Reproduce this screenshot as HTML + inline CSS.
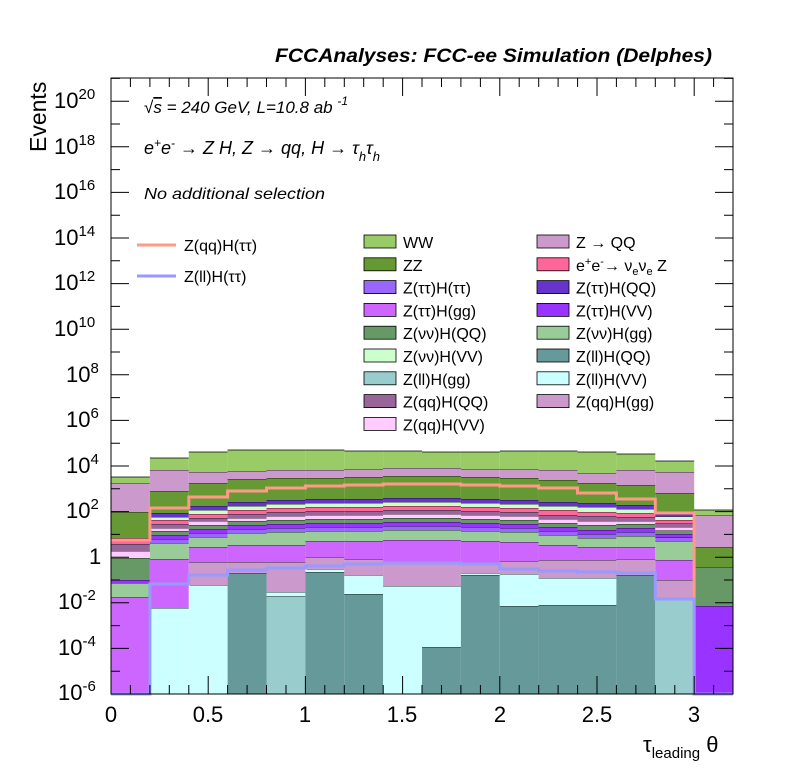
<!DOCTYPE html>
<html><head><meta charset="utf-8"><style>
body{margin:0;background:#fff;}
svg{display:block;font-family:"Liberation Sans",sans-serif;}
.b rect{stroke:#000;stroke-width:0.8;stroke-dasharray:38.9 1000;}
.WW{fill:#99cc66}.ZZ{fill:#669933}.ZQQ{fill:#cc99cc}.nn{fill:#ff6699}.tt{fill:#9966ff}.tg{fill:#cc66ff}.tQ{fill:#6633cc}.tV{fill:#9933ff}.vQ{fill:#669966}.vg{fill:#99cc99}.vV{fill:#ccffcc}.lQ{fill:#669999}.lg{fill:#99cccc}.lV{fill:#ccffff}.qQ{fill:#996699}.qV{fill:#ffccff}.qg{fill:#cc99cc}
</style></head><body>
<svg width="796" height="772" viewBox="0 0 796 772" xmlns="http://www.w3.org/2000/svg">
<rect width="796" height="772" fill="#fff"/>
<g class="b">
<g transform="translate(111,0)">
<rect class="tg" x="0" width="38.9" y="597" height="97"/>
<rect class="vg" x="0" width="38.9" y="583" height="14"/>
<rect class="tV" x="0" width="38.9" y="580" height="3"/>
<rect class="vQ" x="0" width="38.9" y="558" height="22"/>
<rect class="qV" x="0" width="38.9" y="551" height="7"/>
<rect class="qQ" x="0" width="38.9" y="544" height="7"/>
<rect class="nn" x="0" width="38.9" y="538" height="6"/>
<rect class="ZZ" x="0" width="38.9" y="512" height="26"/>
<rect class="ZQQ" x="0" width="38.9" y="483" height="29"/>
<rect class="WW" x="0" width="38.9" y="477" height="6"/>
</g>
<g transform="translate(149.9,0)">
<rect class="lV" x="0" width="38.9" y="608" height="86"/>
<rect class="tg" x="0" width="38.9" y="559" height="49"/>
<rect class="vg" x="0" width="38.9" y="543" height="16"/>
<rect class="tt" x="0" width="38.9" y="539" height="4"/>
<rect class="tV" x="0" width="38.9" y="535" height="4"/>
<rect class="vQ" x="0" width="38.9" y="531" height="4"/>
<rect class="qV" x="0" width="38.9" y="528" height="3"/>
<rect class="qQ" x="0" width="38.9" y="524" height="4"/>
<rect class="nn" x="0" width="38.9" y="520" height="4"/>
<rect class="vV" x="0" width="38.9" y="517" height="3"/>
<rect class="tQ" x="0" width="38.9" y="513" height="4"/>
<rect class="ZZ" x="0" width="38.9" y="491" height="22"/>
<rect class="ZQQ" x="0" width="38.9" y="470" height="21"/>
<rect class="WW" x="0" width="38.9" y="458" height="12"/>
</g>
<g transform="translate(188.8,0)">
<rect class="lV" x="0" width="38.9" y="585" height="109"/>
<rect class="qg" x="0" width="38.9" y="562" height="23"/>
<rect class="tg" x="0" width="38.9" y="547" height="15"/>
<rect class="vg" x="0" width="38.9" y="537" height="10"/>
<rect class="tt" x="0" width="38.9" y="533" height="4"/>
<rect class="tV" x="0" width="38.9" y="529" height="4"/>
<rect class="vQ" x="0" width="38.9" y="525" height="4"/>
<rect class="qV" x="0" width="38.9" y="521" height="4"/>
<rect class="qQ" x="0" width="38.9" y="518" height="3"/>
<rect class="nn" x="0" width="38.9" y="514" height="4"/>
<rect class="vV" x="0" width="38.9" y="510" height="4"/>
<rect class="tQ" x="0" width="38.9" y="506" height="4"/>
<rect class="ZZ" x="0" width="38.9" y="483" height="23"/>
<rect class="ZQQ" x="0" width="38.9" y="472" height="11"/>
<rect class="WW" x="0" width="38.9" y="452" height="20"/>
</g>
<g transform="translate(227.6,0)">
<rect class="lQ" x="0" width="38.9" y="573" height="121"/>
<rect class="qg" x="0" width="38.9" y="562" height="11"/>
<rect class="tg" x="0" width="38.9" y="545" height="17"/>
<rect class="vg" x="0" width="38.9" y="533" height="12"/>
<rect class="tt" x="0" width="38.9" y="529" height="4"/>
<rect class="tV" x="0" width="38.9" y="525" height="4"/>
<rect class="vQ" x="0" width="38.9" y="521" height="4"/>
<rect class="qV" x="0" width="38.9" y="518" height="3"/>
<rect class="qQ" x="0" width="38.9" y="514" height="4"/>
<rect class="nn" x="0" width="38.9" y="510" height="4"/>
<rect class="vV" x="0" width="38.9" y="506" height="4"/>
<rect class="tQ" x="0" width="38.9" y="502" height="4"/>
<rect class="ZZ" x="0" width="38.9" y="479" height="23"/>
<rect class="ZQQ" x="0" width="38.9" y="471" height="8"/>
<rect class="WW" x="0" width="38.9" y="450" height="21"/>
</g>
<g transform="translate(266.5,0)">
<rect class="lg" x="0" width="38.9" y="596" height="98"/>
<rect class="lV" x="0" width="38.9" y="592" height="4"/>
<rect class="qg" x="0" width="38.9" y="562" height="30"/>
<rect class="tg" x="0" width="38.9" y="545" height="17"/>
<rect class="vg" x="0" width="38.9" y="532" height="13"/>
<rect class="tt" x="0" width="38.9" y="528" height="4"/>
<rect class="tV" x="0" width="38.9" y="524" height="4"/>
<rect class="vQ" x="0" width="38.9" y="520" height="4"/>
<rect class="qV" x="0" width="38.9" y="516" height="4"/>
<rect class="qQ" x="0" width="38.9" y="512" height="4"/>
<rect class="nn" x="0" width="38.9" y="508" height="4"/>
<rect class="vV" x="0" width="38.9" y="504" height="4"/>
<rect class="tQ" x="0" width="38.9" y="500" height="4"/>
<rect class="ZZ" x="0" width="38.9" y="478" height="22"/>
<rect class="ZQQ" x="0" width="38.9" y="470" height="8"/>
<rect class="WW" x="0" width="38.9" y="450" height="20"/>
</g>
<g transform="translate(305.4,0)">
<rect class="lQ" x="0" width="38.9" y="572" height="122"/>
<rect class="lV" x="0" width="38.9" y="569" height="3"/>
<rect class="qg" x="0" width="38.9" y="557" height="12"/>
<rect class="tg" x="0" width="38.9" y="541" height="16"/>
<rect class="vg" x="0" width="38.9" y="531" height="10"/>
<rect class="tt" x="0" width="38.9" y="527" height="4"/>
<rect class="tV" x="0" width="38.9" y="523" height="4"/>
<rect class="vQ" x="0" width="38.9" y="519" height="4"/>
<rect class="qV" x="0" width="38.9" y="515" height="4"/>
<rect class="qQ" x="0" width="38.9" y="511" height="4"/>
<rect class="nn" x="0" width="38.9" y="507" height="4"/>
<rect class="vV" x="0" width="38.9" y="503" height="4"/>
<rect class="tQ" x="0" width="38.9" y="499" height="4"/>
<rect class="ZZ" x="0" width="38.9" y="478" height="21"/>
<rect class="ZQQ" x="0" width="38.9" y="470" height="8"/>
<rect class="WW" x="0" width="38.9" y="450" height="20"/>
</g>
<g transform="translate(344.3,0)">
<rect class="lQ" x="0" width="38.9" y="594" height="100"/>
<rect class="lV" x="0" width="38.9" y="575" height="19"/>
<rect class="qg" x="0" width="38.9" y="559" height="16"/>
<rect class="tg" x="0" width="38.9" y="541" height="18"/>
<rect class="vg" x="0" width="38.9" y="531" height="10"/>
<rect class="tt" x="0" width="38.9" y="527" height="4"/>
<rect class="tV" x="0" width="38.9" y="523" height="4"/>
<rect class="vQ" x="0" width="38.9" y="519" height="4"/>
<rect class="qV" x="0" width="38.9" y="515" height="4"/>
<rect class="qQ" x="0" width="38.9" y="511" height="4"/>
<rect class="nn" x="0" width="38.9" y="507" height="4"/>
<rect class="vV" x="0" width="38.9" y="503" height="4"/>
<rect class="tQ" x="0" width="38.9" y="499" height="4"/>
<rect class="ZZ" x="0" width="38.9" y="477" height="22"/>
<rect class="ZQQ" x="0" width="38.9" y="469" height="8"/>
<rect class="WW" x="0" width="38.9" y="451" height="18"/>
</g>
<g transform="translate(383.1,0)">
<rect class="lV" x="0" width="38.9" y="586" height="108"/>
<rect class="qg" x="0" width="38.9" y="564" height="22"/>
<rect class="tg" x="0" width="38.9" y="540" height="24"/>
<rect class="vg" x="0" width="38.9" y="530" height="10"/>
<rect class="tt" x="0" width="38.9" y="526" height="4"/>
<rect class="tV" x="0" width="38.9" y="522" height="4"/>
<rect class="vQ" x="0" width="38.9" y="518" height="4"/>
<rect class="qV" x="0" width="38.9" y="514" height="4"/>
<rect class="qQ" x="0" width="38.9" y="510" height="4"/>
<rect class="nn" x="0" width="38.9" y="506" height="4"/>
<rect class="vV" x="0" width="38.9" y="502" height="4"/>
<rect class="tQ" x="0" width="38.9" y="498" height="4"/>
<rect class="ZZ" x="0" width="38.9" y="476" height="22"/>
<rect class="ZQQ" x="0" width="38.9" y="468" height="8"/>
<rect class="WW" x="0" width="38.9" y="451" height="17"/>
</g>
<g transform="translate(422,0)">
<rect class="lQ" x="0" width="38.9" y="647" height="47"/>
<rect class="lV" x="0" width="38.9" y="586" height="61"/>
<rect class="qg" x="0" width="38.9" y="563" height="23"/>
<rect class="tg" x="0" width="38.9" y="540" height="23"/>
<rect class="vg" x="0" width="38.9" y="530" height="10"/>
<rect class="tt" x="0" width="38.9" y="526" height="4"/>
<rect class="tV" x="0" width="38.9" y="522" height="4"/>
<rect class="vQ" x="0" width="38.9" y="518" height="4"/>
<rect class="qV" x="0" width="38.9" y="514" height="4"/>
<rect class="qQ" x="0" width="38.9" y="510" height="4"/>
<rect class="nn" x="0" width="38.9" y="506" height="4"/>
<rect class="vV" x="0" width="38.9" y="502" height="4"/>
<rect class="tQ" x="0" width="38.9" y="498" height="4"/>
<rect class="ZZ" x="0" width="38.9" y="476" height="22"/>
<rect class="ZQQ" x="0" width="38.9" y="468" height="8"/>
<rect class="WW" x="0" width="38.9" y="452" height="16"/>
</g>
<g transform="translate(460.9,0)">
<rect class="lQ" x="0" width="38.9" y="575" height="119"/>
<rect class="lV" x="0" width="38.9" y="573" height="2"/>
<rect class="qg" x="0" width="38.9" y="563" height="10"/>
<rect class="tg" x="0" width="38.9" y="541" height="22"/>
<rect class="vg" x="0" width="38.9" y="531" height="10"/>
<rect class="tt" x="0" width="38.9" y="527" height="4"/>
<rect class="tV" x="0" width="38.9" y="523" height="4"/>
<rect class="vQ" x="0" width="38.9" y="519" height="4"/>
<rect class="qV" x="0" width="38.9" y="515" height="4"/>
<rect class="qQ" x="0" width="38.9" y="511" height="4"/>
<rect class="nn" x="0" width="38.9" y="507" height="4"/>
<rect class="vV" x="0" width="38.9" y="503" height="4"/>
<rect class="tQ" x="0" width="38.9" y="499" height="4"/>
<rect class="ZZ" x="0" width="38.9" y="477" height="22"/>
<rect class="ZQQ" x="0" width="38.9" y="469" height="8"/>
<rect class="WW" x="0" width="38.9" y="452" height="17"/>
</g>
<g transform="translate(499.8,0)">
<rect class="lQ" x="0" width="38.9" y="606" height="88"/>
<rect class="lV" x="0" width="38.9" y="574" height="32"/>
<rect class="qg" x="0" width="38.9" y="561" height="13"/>
<rect class="tg" x="0" width="38.9" y="542" height="19"/>
<rect class="vg" x="0" width="38.9" y="532" height="10"/>
<rect class="tt" x="0" width="38.9" y="528" height="4"/>
<rect class="tV" x="0" width="38.9" y="524" height="4"/>
<rect class="vQ" x="0" width="38.9" y="520" height="4"/>
<rect class="qV" x="0" width="38.9" y="516" height="4"/>
<rect class="qQ" x="0" width="38.9" y="512" height="4"/>
<rect class="nn" x="0" width="38.9" y="508" height="4"/>
<rect class="vV" x="0" width="38.9" y="504" height="4"/>
<rect class="tQ" x="0" width="38.9" y="500" height="4"/>
<rect class="ZZ" x="0" width="38.9" y="478" height="22"/>
<rect class="ZQQ" x="0" width="38.9" y="469" height="9"/>
<rect class="WW" x="0" width="38.9" y="451" height="18"/>
</g>
<g transform="translate(538.6,0)">
<rect class="lQ" x="0" width="38.9" y="605" height="89"/>
<rect class="lV" x="0" width="38.9" y="578" height="27"/>
<rect class="qg" x="0" width="38.9" y="560" height="18"/>
<rect class="tg" x="0" width="38.9" y="545" height="15"/>
<rect class="vg" x="0" width="38.9" y="535" height="10"/>
<rect class="tt" x="0" width="38.9" y="531" height="4"/>
<rect class="tV" x="0" width="38.9" y="527" height="4"/>
<rect class="vQ" x="0" width="38.9" y="523" height="4"/>
<rect class="qV" x="0" width="38.9" y="519" height="4"/>
<rect class="qQ" x="0" width="38.9" y="515" height="4"/>
<rect class="nn" x="0" width="38.9" y="510" height="5"/>
<rect class="vV" x="0" width="38.9" y="506" height="4"/>
<rect class="tQ" x="0" width="38.9" y="502" height="4"/>
<rect class="ZZ" x="0" width="38.9" y="480" height="22"/>
<rect class="ZQQ" x="0" width="38.9" y="470" height="10"/>
<rect class="WW" x="0" width="38.9" y="451" height="19"/>
</g>
<g transform="translate(577.5,0)">
<rect class="lQ" x="0" width="38.9" y="605" height="89"/>
<rect class="lV" x="0" width="38.9" y="578" height="27"/>
<rect class="qg" x="0" width="38.9" y="560" height="18"/>
<rect class="tg" x="0" width="38.9" y="547" height="13"/>
<rect class="vg" x="0" width="38.9" y="538" height="9"/>
<rect class="tt" x="0" width="38.9" y="534" height="4"/>
<rect class="tV" x="0" width="38.9" y="530" height="4"/>
<rect class="vQ" x="0" width="38.9" y="525" height="5"/>
<rect class="qV" x="0" width="38.9" y="521" height="4"/>
<rect class="qQ" x="0" width="38.9" y="516" height="5"/>
<rect class="nn" x="0" width="38.9" y="512" height="4"/>
<rect class="vV" x="0" width="38.9" y="507" height="5"/>
<rect class="tQ" x="0" width="38.9" y="503" height="4"/>
<rect class="ZZ" x="0" width="38.9" y="483" height="20"/>
<rect class="ZQQ" x="0" width="38.9" y="473" height="10"/>
<rect class="WW" x="0" width="38.9" y="452" height="21"/>
</g>
<g transform="translate(616.4,0)">
<rect class="lQ" x="0" width="38.9" y="575" height="119"/>
<rect class="qg" x="0" width="38.9" y="559" height="16"/>
<rect class="tg" x="0" width="38.9" y="547" height="12"/>
<rect class="vg" x="0" width="38.9" y="536" height="11"/>
<rect class="tt" x="0" width="38.9" y="532" height="4"/>
<rect class="tV" x="0" width="38.9" y="528" height="4"/>
<rect class="vQ" x="0" width="38.9" y="524" height="4"/>
<rect class="qV" x="0" width="38.9" y="521" height="3"/>
<rect class="qQ" x="0" width="38.9" y="517" height="4"/>
<rect class="nn" x="0" width="38.9" y="513" height="4"/>
<rect class="vV" x="0" width="38.9" y="509" height="4"/>
<rect class="tQ" x="0" width="38.9" y="505" height="4"/>
<rect class="ZZ" x="0" width="38.9" y="485" height="20"/>
<rect class="ZQQ" x="0" width="38.9" y="470" height="15"/>
<rect class="WW" x="0" width="38.9" y="454" height="16"/>
</g>
<g transform="translate(655.3,0)">
<rect class="lg" x="0" width="38.9" y="598" height="96"/>
<rect class="qg" x="0" width="38.9" y="580" height="18"/>
<rect class="tg" x="0" width="38.9" y="560" height="20"/>
<rect class="vg" x="0" width="38.9" y="541" height="19"/>
<rect class="tt" x="0" width="38.9" y="537.5" height="3.5"/>
<rect class="tV" x="0" width="38.9" y="534" height="3.5"/>
<rect class="vQ" x="0" width="38.9" y="530.5" height="3.5"/>
<rect class="qV" x="0" width="38.9" y="527" height="3.5"/>
<rect class="qQ" x="0" width="38.9" y="523.5" height="3.5"/>
<rect class="nn" x="0" width="38.9" y="520" height="3.5"/>
<rect class="vV" x="0" width="38.9" y="516.5" height="3.5"/>
<rect class="tQ" x="0" width="38.9" y="513" height="3.5"/>
<rect class="ZZ" x="0" width="38.9" y="493" height="20"/>
<rect class="ZQQ" x="0" width="38.9" y="472" height="21"/>
<rect class="WW" x="0" width="38.9" y="461" height="11"/>
</g>
<g transform="translate(694.1,0)">
<rect class="tV" x="0" width="38.9" y="606" height="88"/>
<rect class="vQ" x="0" width="38.9" y="567" height="39"/>
<rect class="ZZ" x="0" width="38.9" y="547" height="20"/>
<rect class="ZQQ" x="0" width="38.9" y="515" height="32"/>
<rect class="WW" x="0" width="38.9" y="510" height="5"/>
</g>
</g>
<path d="M111 540 H149.9 V508 H188.8 V497 H227.6 V491 H266.5 V488 H305.4 V486 H344.3 V485 H383.1 V484 H460.9 V485 H499.8 V486 H538.6 V488 H577.5 V493 H616.4 V499 H655.3 V513 H694.1 V694" fill="none" stroke="#ff9988" stroke-width="3"/>
<path d="M111 694 H149.9 V584 H188.8 V575 H227.6 V570 H266.5 V568 H305.4 V566 H344.3 V564 H383.1 V563 H460.9 V564 H499.8 V569 H538.6 V571 H577.5 V572 H616.4 V573 H655.3 V599 H694.1 V694 H733" fill="none" stroke="#9999ff" stroke-width="3"/>
<rect x="111" y="78" width="622" height="616" fill="none" stroke="#000" stroke-width="1"/>
<path stroke="#000" stroke-width="1" fill="none" d="
M111 694h18M111 671.2h9M111 648.4h18M111 625.6h9M111 602.8h18M111 580h9M111 557.2h18M111 534.4h9M111 511.6h18M111 488.8h9M111 466h18M111 443.2h9M111 420.4h18M111 397.6h9M111 374.8h18M111 352h9M111 329.2h18M111 306.4h9M111 283.6h18M111 260.8h9M111 238h18M111 215.2h9M111 192.4h18M111 169.6h9M111 146.8h18M111 124h9M111 101.2h18M111 78.4h9
M733 694h-18M733 671.2h-9M733 648.4h-18M733 625.6h-9M733 602.8h-18M733 580h-9M733 557.2h-18M733 534.4h-9M733 511.6h-18M733 488.8h-9M733 466h-18M733 443.2h-9M733 420.4h-18M733 397.6h-9M733 374.8h-18M733 352h-9M733 329.2h-18M733 306.4h-9M733 283.6h-18M733 260.8h-9M733 238h-18M733 215.2h-9M733 192.4h-18M733 169.6h-9M733 146.8h-18M733 124h-9M733 101.2h-18M733 78.4h-9
M111 694v-18M130.4 694v-9M149.9 694v-9M169.3 694v-9M188.8 694v-9M208.2 694v-18M227.6 694v-9M247.1 694v-9M266.5 694v-9M286 694v-9M305.4 694v-18M324.8 694v-9M344.3 694v-9M363.7 694v-9M383.2 694v-9M402.6 694v-18M422 694v-9M441.5 694v-9M460.9 694v-9M480.4 694v-9M499.8 694v-18M519.2 694v-9M538.7 694v-9M558.1 694v-9M577.6 694v-9M597 694v-18M616.4 694v-9M635.9 694v-9M655.3 694v-9M674.8 694v-9M694.2 694v-18M713.6 694v-9
M111 78v18M130.4 78v9M149.9 78v9M169.3 78v9M188.8 78v9M208.2 78v18M227.6 78v9M247.1 78v9M266.5 78v9M286 78v9M305.4 78v18M324.8 78v9M344.3 78v9M363.7 78v9M383.2 78v9M402.6 78v18M422 78v9M441.5 78v9M460.9 78v9M480.4 78v9M499.8 78v18M519.2 78v9M538.7 78v9M558.1 78v9M577.6 78v9M597 78v18M616.4 78v9M635.9 78v9M655.3 78v9M674.8 78v9M694.2 78v18M713.6 78v9"/>
<g font-size="22" fill="#000">
<text x="54" y="108">10<tspan dy="-9" font-size="15">20</tspan></text>
<text x="54" y="154">10<tspan dy="-9" font-size="15">18</tspan></text>
<text x="54" y="199">10<tspan dy="-9" font-size="15">16</tspan></text>
<text x="54" y="245">10<tspan dy="-9" font-size="15">14</tspan></text>
<text x="54" y="290">10<tspan dy="-9" font-size="15">12</tspan></text>
<text x="54" y="336">10<tspan dy="-9" font-size="15">10</tspan></text>
<text x="66" y="382">10<tspan dy="-9" font-size="15">8</tspan></text>
<text x="66" y="427">10<tspan dy="-9" font-size="15">6</tspan></text>
<text x="66" y="473">10<tspan dy="-9" font-size="15">4</tspan></text>
<text x="66" y="518">10<tspan dy="-9" font-size="15">2</tspan></text>
<text x="89" y="564">1</text>
<text x="58" y="609">10<tspan dy="-9" font-size="15">-2</tspan></text>
<text x="58" y="655">10<tspan dy="-9" font-size="15">-4</tspan></text>
<text x="58" y="700">10<tspan dy="-9" font-size="15">-6</tspan></text>
</g>
<g font-size="22" fill="#000" text-anchor="middle">
<text x="111" y="722">0</text>
<text x="208" y="722">0.5</text>
<text x="305" y="722">1</text>
<text x="402" y="722">1.5</text>
<text x="500" y="722">2</text>
<text x="597" y="722">2.5</text>
<text x="694" y="722">3</text>
</g>
<text transform="translate(46,152) rotate(-90)" font-size="23">Events</text>
<text x="643" y="752" font-size="22">τ<tspan dy="6" font-size="15">leading</tspan><tspan dy="-6"> θ</tspan></text>
<text x="275" y="62" font-size="19" font-weight="bold" font-style="italic" textLength="437" lengthAdjust="spacingAndGlyphs">FCCAnalyses: FCC-ee Simulation (Delphes)</text>
<g font-size="17" font-style="italic">
<text x="144" y="113">√<tspan text-decoration="overline">s</tspan> = 240 GeV, L=10.8 ab <tspan dy="-8" font-size="12">-1</tspan></text>
<text x="144" y="154" font-size="18">e<tspan dy="-7" font-size="12">+</tspan><tspan dy="7">e</tspan><tspan dy="-7" font-size="12">-</tspan><tspan dy="7"> → Z H, Z  → qq, H  → τ</tspan><tspan dy="7" font-size="13">h</tspan><tspan dy="-7">τ</tspan><tspan dy="7" font-size="13">h</tspan></text>
<text x="144" y="199" font-size="16" textLength="181" lengthAdjust="spacingAndGlyphs">No additional selection</text>
</g>
<g font-size="16">
<line x1="137" y1="245" x2="176" y2="245" stroke="#ff9988" stroke-width="3"/>
<text x="184" y="251">Z(qq)H(ττ)</text>
<line x1="137" y1="276" x2="176" y2="276" stroke="#9999ff" stroke-width="3"/>
<text x="184" y="282">Z(ll)H(ττ)</text>
</g>
<g font-size="16" stroke-width="0.8">
<rect x="364" y="235" width="32" height="13" class="WW" stroke="#000"/><text x="403" y="248">WW</text>
<rect x="364" y="257.8" width="32" height="13" class="ZZ" stroke="#000"/><text x="403" y="270.8">ZZ</text>
<rect x="364" y="280.6" width="32" height="13" class="tt" stroke="#000"/><text x="403" y="293.6">Z(ττ)H(ττ)</text>
<rect x="364" y="303.4" width="32" height="13" class="tg" stroke="#000"/><text x="403" y="316.4">Z(ττ)H(gg)</text>
<rect x="364" y="326.2" width="32" height="13" class="vQ" stroke="#000"/><text x="403" y="339.2">Z(νν)H(QQ)</text>
<rect x="364" y="349" width="32" height="13" class="vV" stroke="#000"/><text x="403" y="362">Z(νν)H(VV)</text>
<rect x="364" y="371.8" width="32" height="13" class="lg" stroke="#000"/><text x="403" y="384.8">Z(ll)H(gg)</text>
<rect x="364" y="394.6" width="32" height="13" class="qQ" stroke="#000"/><text x="403" y="407.6">Z(qq)H(QQ)</text>
<rect x="364" y="417.4" width="32" height="13" class="qV" stroke="#000"/><text x="403" y="430.4">Z(qq)H(VV)</text>
<rect x="537" y="235" width="32" height="13" class="ZQQ" stroke="#000"/><text x="576" y="248">Z → QQ</text>
<rect x="537" y="257.8" width="32" height="13" class="nn" stroke="#000"/><text x="576" y="270.8">e<tspan dy="-6" font-size="11">+</tspan><tspan dy="6">e</tspan><tspan dy="-6" font-size="11">-</tspan><tspan dy="6">→ ν</tspan><tspan dy="4" font-size="11">e</tspan><tspan dy="-4">ν</tspan><tspan dy="4" font-size="11">e</tspan><tspan dy="-4"> Z</tspan></text>
<rect x="537" y="280.6" width="32" height="13" class="tQ" stroke="#000"/><text x="576" y="293.6">Z(ττ)H(QQ)</text>
<rect x="537" y="303.4" width="32" height="13" class="tV" stroke="#000"/><text x="576" y="316.4">Z(ττ)H(VV)</text>
<rect x="537" y="326.2" width="32" height="13" class="vg" stroke="#000"/><text x="576" y="339.2">Z(νν)H(gg)</text>
<rect x="537" y="349" width="32" height="13" class="lQ" stroke="#000"/><text x="576" y="362">Z(ll)H(QQ)</text>
<rect x="537" y="371.8" width="32" height="13" class="lV" stroke="#000"/><text x="576" y="384.8">Z(ll)H(VV)</text>
<rect x="537" y="394.6" width="32" height="13" class="qg" stroke="#000"/><text x="576" y="407.6">Z(qq)H(gg)</text>
</g>
</svg>
</body></html>
